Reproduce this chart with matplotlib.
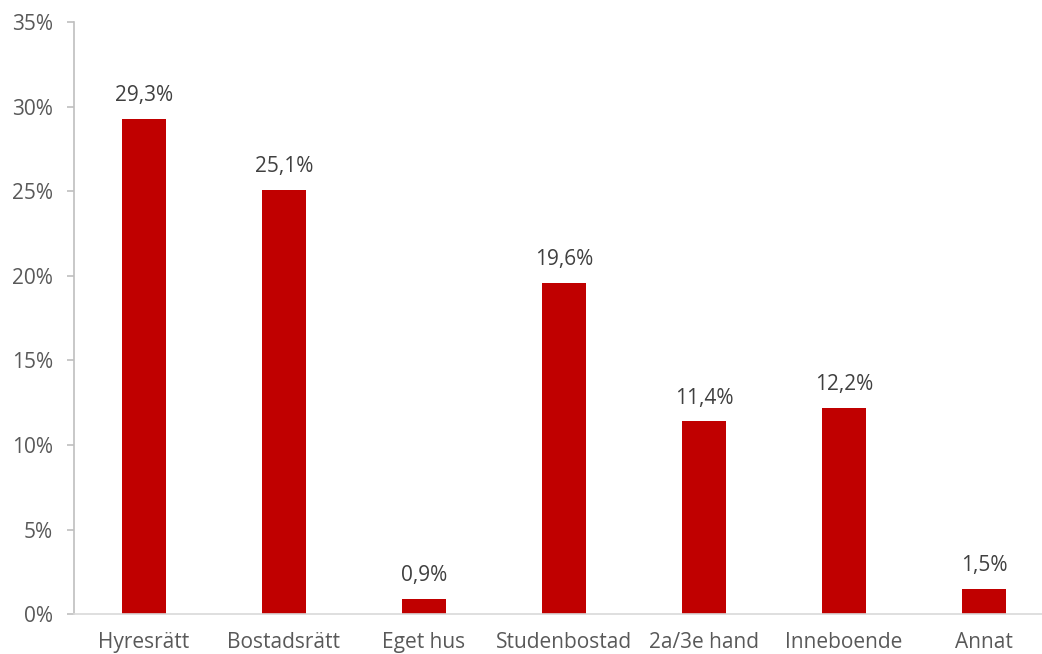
import numpy as np
import matplotlib
matplotlib.use('Agg')
import matplotlib.pyplot as plt
from matplotlib.ticker import FuncFormatter

plt.rcParams['font.family'] = ['Open Sans', 'DejaVu Sans']

categories = ['Hyresrätt', 'Bostadsrätt', 'Eget hus', 'Studenbostad',
              '2a/3e hand', 'Inneboende', 'Annat']
values = [29.3, 25.1, 0.9, 19.6, 11.4, 12.2, 1.5]
yticks = [0, 5, 10, 15, 20, 25, 30, 35]

gray = '#595959'
barcol = '#C00000'

fig = plt.figure(figsize=(10.42, 6.54), dpi=100)
ax = fig.add_axes([0.071, 0.061, 0.9405, 0.905])

x = np.arange(len(categories))
ax.bar(x, values, width=0.314, color=barcol, zorder=2)
for xi, v in zip(x, values):
    ax.text(xi, v + 0.75, f'{v:.1f}%'.replace('.', ','), ha='center', va='bottom',
            fontsize=15, color='#404040')

ax.set_xlim(-0.5, len(categories) - 0.5)
ax.set_ylim(0, 35)
ax.set_yticks(yticks)
ax.yaxis.set_major_formatter(FuncFormatter(lambda v, p: f'{v:.0f}%'))
ax.set_xticks(x)
ax.set_xticklabels(categories)

for s in ['top', 'right']:
    ax.spines[s].set_visible(False)
ax.spines['left'].set_color('#BFBFBF')
ax.spines['bottom'].set_color('#D9D9D9')
ax.spines['left'].set_linewidth(1.2)
ax.spines['bottom'].set_linewidth(1.2)
ax.tick_params(axis='y', colors='#BFBFBF', labelcolor=gray, length=5, width=1.2,
               labelsize=15, pad=10)
ax.tick_params(axis='x', length=0, labelcolor=gray, labelsize=15, pad=13)

fig.savefig('out.png', dpi=100)
